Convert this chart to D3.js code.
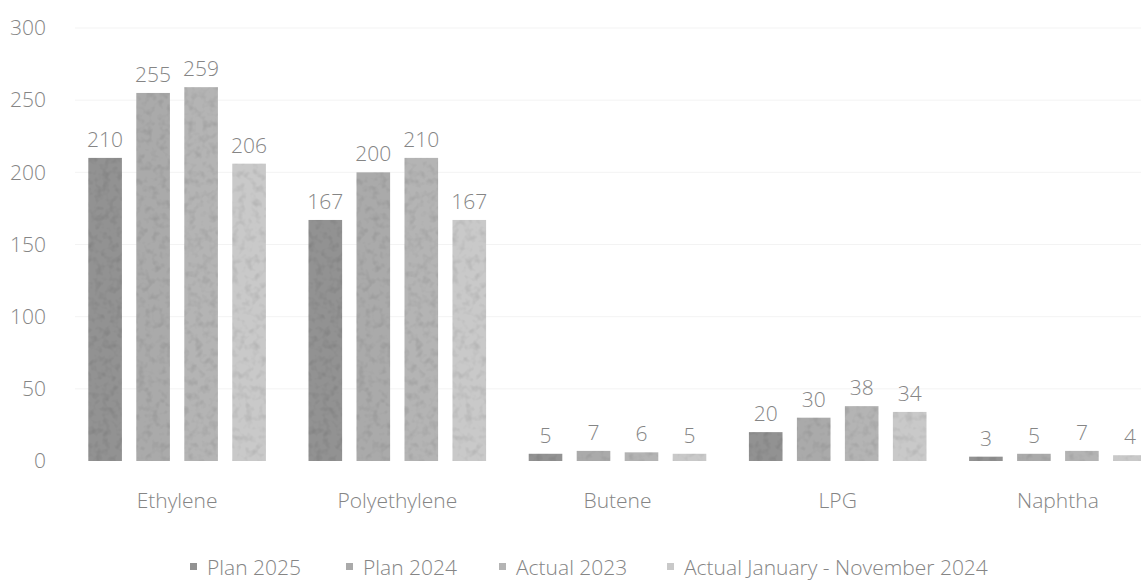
<!DOCTYPE html>
<html>
<head>
<meta charset="utf-8">
<script src="https://cdn.jsdelivr.net/npm/d3@7"></script>
<style>
  html, body { margin: 0; padding: 0; background: #fff; }
  svg { display: block; }
  text { font-family: "Open Sans", "Noto Sans", sans-serif; font-weight: 300; fill: #858585; }
</style>
</head>
<body>
<svg id="chart" width="1141" height="585"></svg>
<script>
// Product categories and series (thousand tonnes)
const categories = ["Ethylene", "Polyethylene", "Butene", "LPG", "Naphtha"];
const seriesNames = ["Plan 2025", "Plan 2024", "Actual 2023", "Actual January - November 2024"];
const plan2025   = [210, 167, 5, 20, 3];
const plan2024   = [255, 200, 7, 30, 5];
const actual2023 = [259, 210, 6, 38, 7];
const actualJanNov2024 = [206, 167, 5, 34, 4];
const yTicks = [0, 50, 100, 150, 200, 250, 300];
const seriesColors = ["#929292", "#aaaaaa", "#b4b4b4", "#c9c9c9"];

const seriesValues = [plan2025, plan2024, actual2023, actualJanNov2024];
const rows = categories.map((c, i) => ({
  category: c,
  values: seriesNames.map((s, j) => ({ series: s, value: seriesValues[j][i] }))
}));

const svg = d3.select("#chart");
const W = 1141, H = 585;

// Mottled print texture for the bars
const defs = svg.append("defs");
const tex = defs.append("filter").attr("id", "grain")
  .attr("x", 0).attr("y", 0).attr("width", 1).attr("height", 1);
tex.append("feTurbulence").attr("type", "fractalNoise")
  .attr("baseFrequency", 0.14).attr("numOctaves", 2).attr("seed", 7).attr("result", "noise");
tex.append("feColorMatrix").attr("in", "noise").attr("type", "matrix")
  .attr("values", "0 0 0 0 0  0 0 0 0 0  0 0 0 0 0  0 0 0 -1.8 1.0")
  .attr("result", "spots");
tex.append("feComposite").attr("in", "spots").attr("in2", "SourceGraphic")
  .attr("operator", "in").attr("result", "spotsIn");
tex.append("feComponentTransfer").attr("in", "spotsIn").attr("result", "soft")
  .append("feFuncA").attr("type", "linear").attr("slope", 0.25);
const merge = tex.append("feMerge");
merge.append("feMergeNode").attr("in", "SourceGraphic");
merge.append("feMergeNode").attr("in", "soft");

// Category bands: group spacing wide enough for four bars per product
const x0 = d3.scaleBand().domain(categories).range([67, 1168]).paddingInner(0).paddingOuter(0);
const x1 = d3.scaleBand().domain(seriesNames).range([0, x0.bandwidth()]).paddingInner(0.3).paddingOuter(0.444);
const y = d3.scaleLinear().domain([0, 300]).range([461, 28]);
const color = d3.scaleOrdinal().domain(seriesNames).range(seriesColors);

// Faint horizontal gridlines
svg.append("g")
  .selectAll("line")
  .data(yTicks.filter(t => t > 0))
  .join("line")
  .attr("x1", 75).attr("x2", W)
  .attr("y1", d => y(d)).attr("y2", d => y(d))
  .attr("stroke", "#f3f3f3").attr("stroke-width", 1);

// Y axis: labels only
const yAxis = svg.append("g")
  .attr("transform", "translate(48,0)")
  .call(d3.axisLeft(y).tickValues(yTicks).tickSize(0).tickPadding(2));
yAxis.select(".domain").remove();
yAxis.selectAll("text").attr("font-size", 21).attr("fill", "#8a8a8a");

// Grouped bars
const groups = svg.append("g")
  .selectAll("g")
  .data(rows)
  .join("g")
  .attr("transform", d => `translate(${x0(d.category)},0)`);

groups.selectAll("rect")
  .data(d => d.values)
  .join("rect")
  .attr("x", d => x1(d.series))
  .attr("y", d => y(d.value))
  .attr("width", x1.bandwidth())
  .attr("height", d => y(0) - y(d.value))
  .attr("fill", d => color(d.series))
  .attr("filter", "url(#grain)");

// Value labels
groups.selectAll("text.value")
  .data(d => d.values)
  .join("text")
  .attr("class", "value")
  .attr("x", d => x1(d.series) + x1.bandwidth() / 2)
  .attr("y", d => y(d.value) - 11)
  .attr("text-anchor", "middle")
  .attr("font-size", 21)
  .text(d => d.value);

// Category labels
const xAxis = svg.append("g")
  .attr("transform", `translate(0,${y(0)})`)
  .call(d3.axisBottom(x0).tickSize(0));
xAxis.select(".domain").remove();
xAxis.selectAll("text")
  .attr("y", 47).attr("dy", 0)
  .attr("font-size", 21).attr("fill", "#828282");

// Legend
const legendX = [190, 346, 499, 667];
const legend = svg.append("g")
  .selectAll("g")
  .data(seriesNames)
  .join("g")
  .attr("transform", (d, i) => `translate(${legendX[i]},567)`);
legend.append("rect")
  .attr("x", 0).attr("y", -4).attr("width", 7).attr("height", 7)
  .attr("fill", d => color(d));
legend.append("text")
  .attr("x", 17).attr("y", 0).attr("dy", "0.36em")
  .attr("font-size", 21)
  .text(d => d);
</script>
</body>
</html>
